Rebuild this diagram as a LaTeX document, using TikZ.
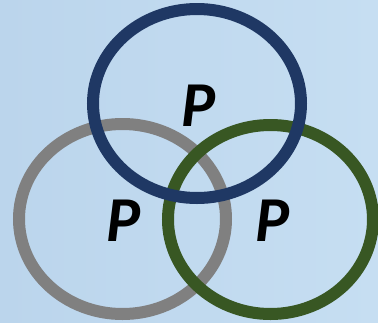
\documentclass[tikz,border=0pt]{standalone}
\usepackage{fontspec}
\setmainfont{Carlito}
\usepackage{tikz}
\usepackage{xcolor}

\definecolor{bgA}{RGB}{187,213,236}
\definecolor{bgB}{RGB}{198,222,242}
\definecolor{ringblue}{RGB}{31,56,100}
\definecolor{ringgreen}{RGB}{56,87,35}
\definecolor{ringgray}{RGB}{128,128,128}

\begin{document}
\begin{tikzpicture}[
    x=1pt, y=-1pt,
    ring/.style={line width=12pt},
    letter/.style={font=\fontsize{64}{64}\selectfont\bfseries\itshape, inner sep=0pt}
]
\useasboundingbox (0,0) rectangle (378,322);
\shade[left color=bgA, right color=bgB] (0,0) rectangle (378,322);

\coordinate (cgray) at (122.5,219);
\coordinate (cgreen) at (270.5,219.5);
\coordinate (cblue) at (197,103.5);

\draw[ring, ringgray] (cgray) ellipse (103.5 and 95);
\draw[ring, ringgreen] (cgreen) ellipse (102.5 and 94.5);
\draw[ring, ringblue] (cblue) ellipse (104 and 94.5);

\node[letter] (pblue) at (199,105.5) {P};
\node[letter] (pgray) at (123.5,220.5) {P};
\node[letter] (pgreen) at (273,220.5) {P};
\end{tikzpicture}
\end{document}
